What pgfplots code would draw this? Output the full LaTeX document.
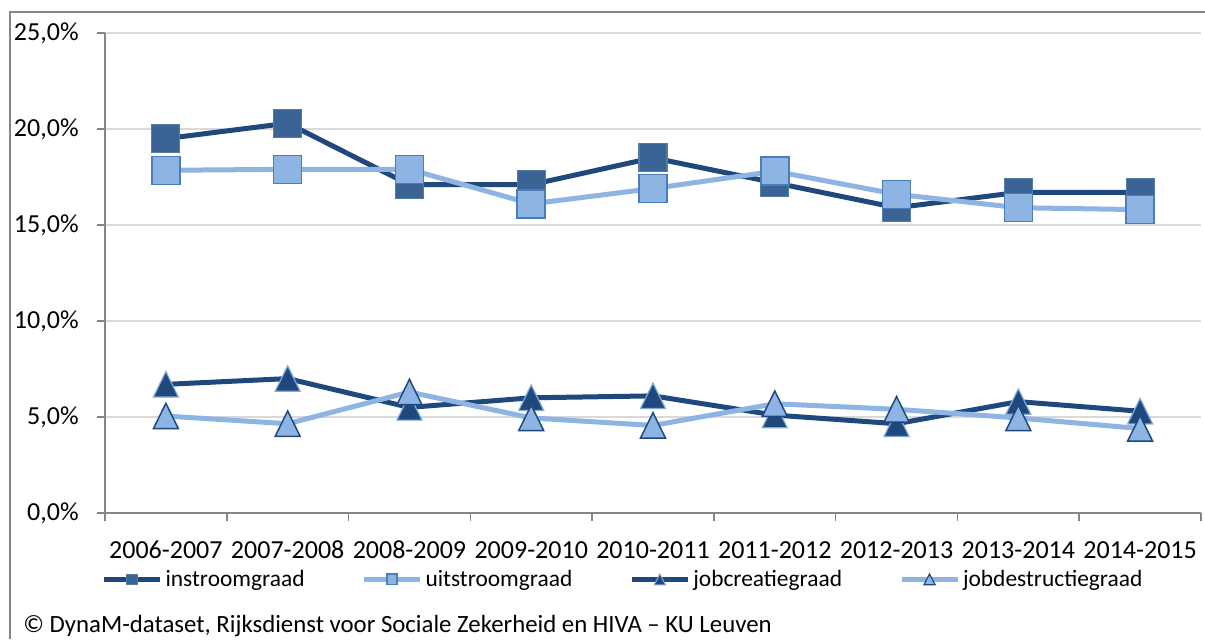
\documentclass[border=0pt]{standalone}
\usepackage{pgfplots}
\pgfplotsset{compat=1.18}
\usepackage{fontspec}
\setmainfont{Carlito}
\definecolor{darkline}{HTML}{1F497D}
\definecolor{darkfill}{HTML}{3A6496}
\definecolor{lightline}{HTML}{8EB4E3}
\definecolor{lightborder}{HTML}{4A7EBB}
\definecolor{gridc}{HTML}{D9D9D9}
\definecolor{axisc}{HTML}{868686}

\begin{document}
\begin{tikzpicture}
\draw[axisc, line width=1pt] (5pt,0) -- (5pt,313.5pt) -- (602.5pt,313.5pt);
\begin{axis}[
  at={(52.5pt,63pt)}, anchor=south west,
  scale only axis, width=548pt, height=240pt,
  xmin=-0.5, xmax=8.5, ymin=0, ymax=25,
  axis x line*=bottom, axis y line*=left,
  axis line style={axisc, line width=0.75pt, -},
  xtick={0,...,8},
  xticklabels={2006-2007,2007-2008,2008-2009,2009-2010,2010-2011,2011-2012,2012-2013,2013-2014,2014-2015},
  minor xtick={-0.5,0.5,...,8.5},
  major x tick style={draw=none},
  minor x tick style={axisc, line width=0.75pt},
  ytick={0,5,...,25},
  yticklabels={{0,0\%},{5,0\%},{10,0\%},{15,0\%},{20,0\%},{25,0\%}},
  ytick style={axisc, line width=0.75pt},
  tick align=outside,
  major tick length=4pt, minor tick length=4pt,
  ymajorgrids, grid style={gridc, line width=0.75pt},
  xticklabel style={font=\fontsize{13}{15}\selectfont, anchor=north, inner sep=0pt, yshift=-9.9pt},
  yticklabel style={font=\fontsize{13}{15}\selectfont, anchor=east, inner sep=0pt, xshift=-9pt},
  clip=false,
  legend columns=4,
  legend style={at={(axis description cs:0,0)}, anchor=west, xshift=-1.7pt, yshift=-33.2pt,
    draw=none, fill=none, inner sep=0pt, outer sep=0pt,
    font=\fontsize{11.7}{14}\selectfont,
    nodes={inner sep=1.5pt},
    /tikz/every even column/.append style={column sep=27pt}},
  legend image code/.code={\draw[mark repeat=2,mark phase=2,#1] plot coordinates {(0pt,0pt) (14pt,0pt) (28pt,0pt)};},
]
\addplot[darkline, line width=2.5pt, mark=square*, mark size=7pt,
  mark options={fill=darkfill, draw=darkfill!85!white, line width=0.6pt},
  legend image post style={mark size=2.6pt}]
  coordinates {(0,19.5) (1,20.3) (2,17.1) (3,17.1) (4,18.5) (5,17.2) (6,15.9) (7,16.7) (8,16.7)};
\addlegendentry{instroomgraad}
\addplot[lightline, line width=2.5pt, mark=square*, mark size=7pt,
  mark options={fill=lightline, draw=lightborder, line width=0.75pt},
  legend image post style={mark size=2.6pt}]
  coordinates {(0,17.85) (1,17.9) (2,17.9) (3,16.1) (4,16.9) (5,17.8) (6,16.6) (7,15.9) (8,15.8)};
\addlegendentry{uitstroomgraad}
\addplot[darkline, line width=2.5pt, mark=triangle*, mark size=8.5pt,
  mark options={fill=darkline, draw=lightline!90!darkline, line width=0.6pt, xscale=0.85, yshift=-2.1pt},
  legend image post style={mark size=3.6pt, mark options={fill=darkline, draw=lightline!90!darkline, line width=0.5pt, xscale=0.9, yshift=-0.9pt}}]
  coordinates {(0,6.7) (1,7.0) (2,5.5) (3,6.0) (4,6.1) (5,5.1) (6,4.65) (7,5.8) (8,5.3)};
\addlegendentry{jobcreatiegraad}
\addplot[lightline, line width=2.5pt, mark=triangle*, mark size=8.5pt,
  mark options={fill=lightline, draw=darkline, line width=0.75pt, xscale=0.85, yshift=-2.1pt},
  legend image post style={mark size=3.6pt, mark options={fill=lightline, draw=darkline, line width=0.6pt, xscale=0.9, yshift=-0.9pt}}]
  coordinates {(0,5.05) (1,4.65) (2,6.3) (3,4.95) (4,4.56) (5,5.69) (6,5.4) (7,4.95) (8,4.4)};
\addlegendentry{jobdestructiegraad}
\end{axis}
\node[anchor=base west, inner sep=0pt, font=\fontsize{12.4}{14}\selectfont] at (11.5pt,3.2pt) {© DynaM-dataset, Rijksdienst voor Sociale Zekerheid en HIVA – KU Leuven};
\pgfresetboundingbox
\path[use as bounding box] (0,0) rectangle (602.5pt,319.5pt);
\end{tikzpicture}
\end{document}
